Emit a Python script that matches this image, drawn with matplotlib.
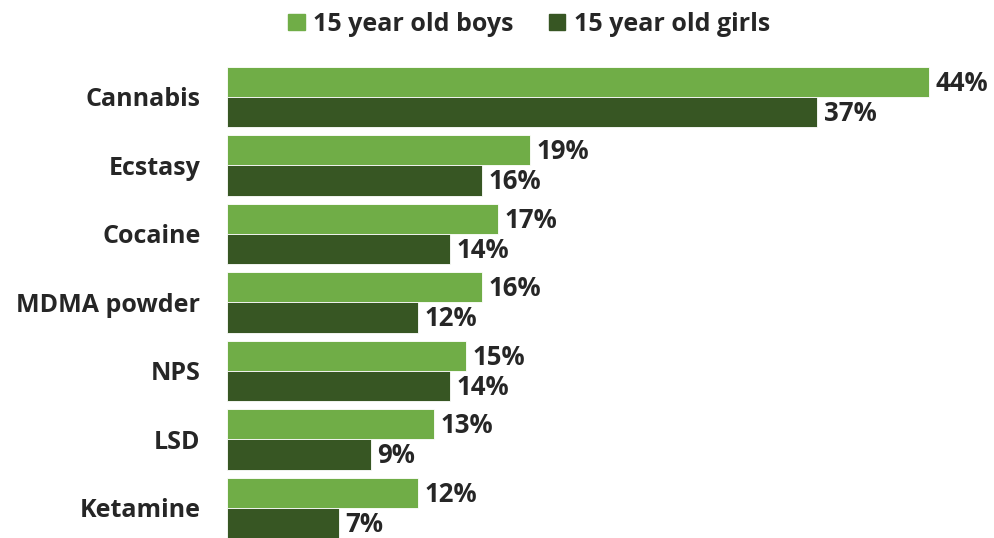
import matplotlib
matplotlib.use("Agg")
import matplotlib.pyplot as plt
from matplotlib.patches import Patch

# data
drugs = ["Cannabis", "Ecstasy", "Cocaine", "MDMA powder", "NPS", "LSD", "Ketamine"]
boys = [44, 19, 17, 16, 15, 13, 12]
girls = [37, 16, 14, 12, 14, 9, 7]

light = "#70AD47"
dark = "#375623"
txt = "#262626"

plt.rcParams["font.family"] = ["Open Sans", "DejaVu Sans"]
plt.rcParams["font.weight"] = "bold"

fig = plt.figure(figsize=(9.95, 5.38), dpi=100)
ax = fig.add_axes([0.228, 0.0, 0.762, 0.8834])

y = list(range(len(drugs)))
h = 0.44
b1 = ax.barh([v - h / 2 for v in y], boys, height=h, color=light, edgecolor="white", linewidth=0.6)
b2 = ax.barh([v + h / 2 for v in y], girls, height=h, color=dark, edgecolor="white", linewidth=0.6)

for bars, vals in ((b1, boys), (b2, girls)):
    for bar, v in zip(bars, vals):
        ax.text(bar.get_width() + 0.4, bar.get_y() + bar.get_height() / 2 + 0.02,
                f"{v}%", va="center", ha="left", fontsize=18.5, fontweight="bold", color=txt)

ax.set_ylim(6.44, -0.5)
ax.set_xlim(0, 47.5)
ax.set_yticks(y)
ax.set_yticklabels(drugs, fontsize=18, fontweight="bold", color=txt)
ax.tick_params(axis="y", length=0, pad=19)
ax.set_xticks([])
for s in ax.spines.values():
    s.set_visible(False)

handles = [Patch(color=light, label="15 year old boys"), Patch(color=dark, label="15 year old girls")]
fig.legend(handles=handles, loc="center", bbox_to_anchor=(0.532, 0.955), ncol=2, frameon=False,
           handlelength=0.65, handleheight=0.65, handletextpad=0.35, columnspacing=1.4,
           prop={"size": 18, "weight": "bold"}, labelcolor=txt)

fig.savefig("out.png", dpi=100)
